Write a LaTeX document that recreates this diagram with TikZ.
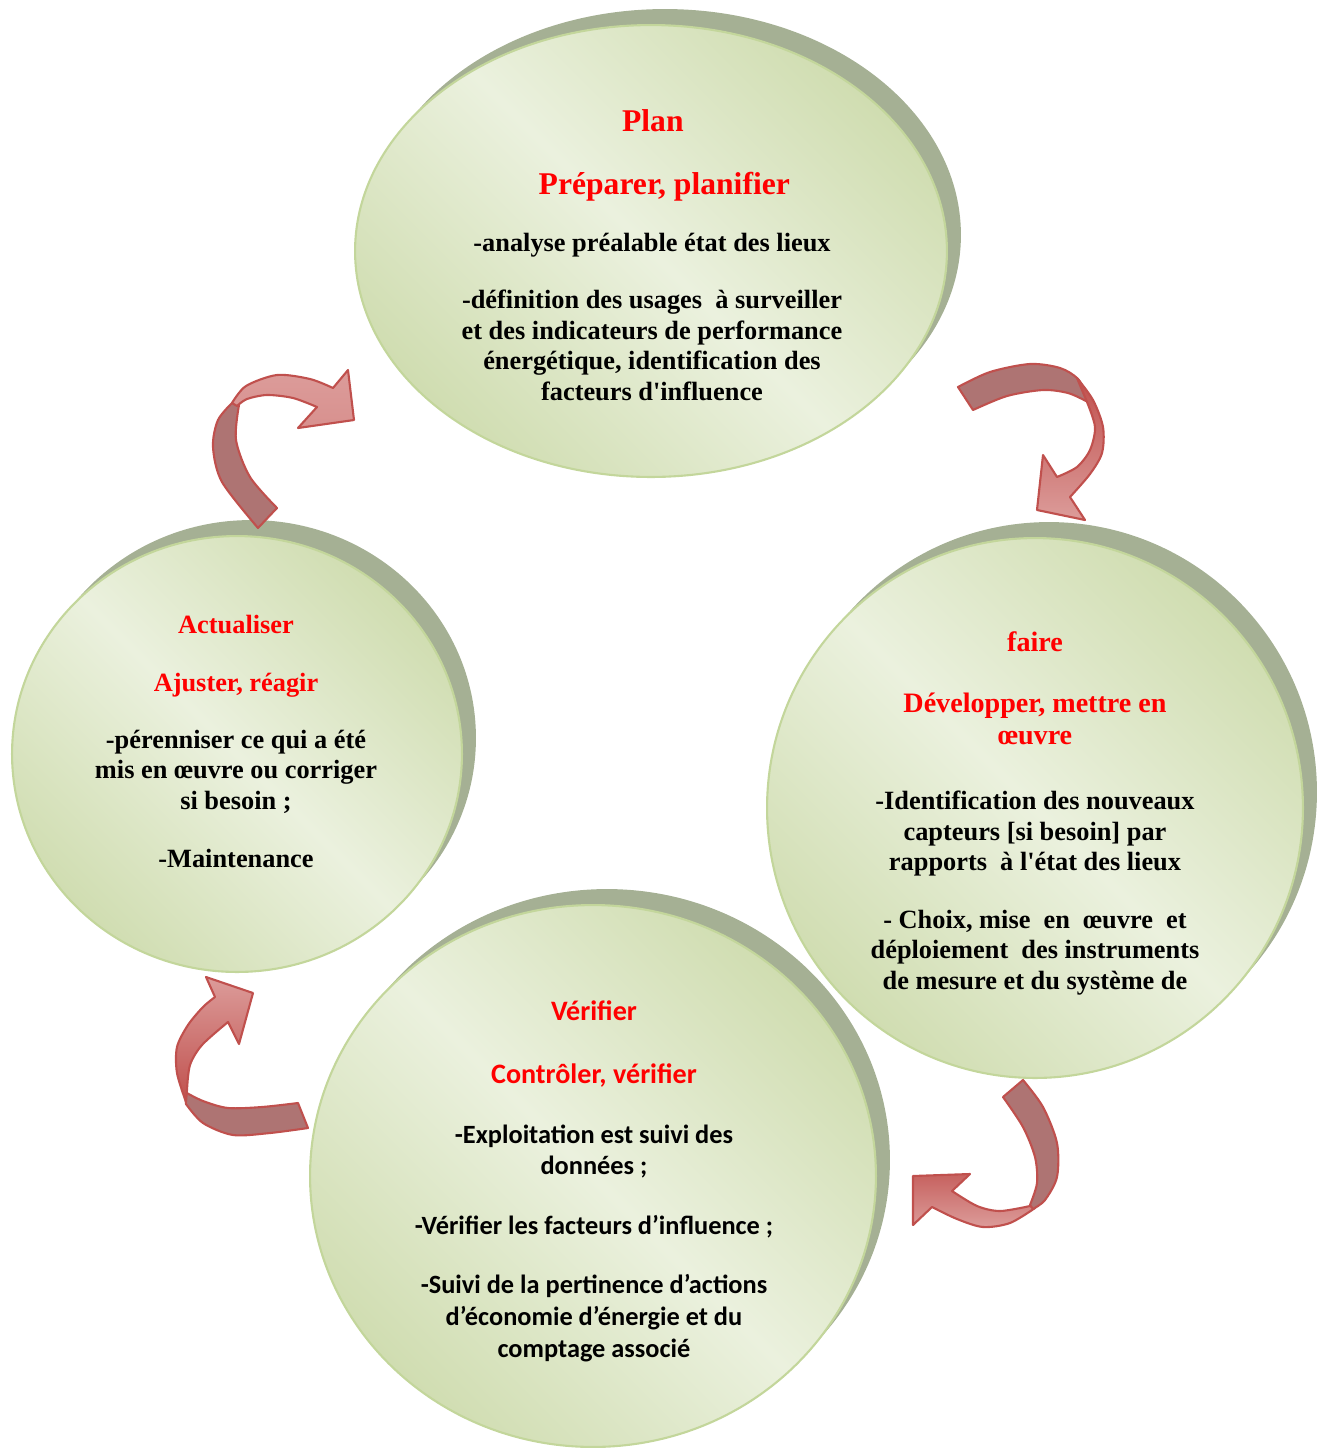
\documentclass[tikz,border=0pt]{standalone}
\usepackage{fontspec}
\setmainfont{Liberation Serif}
\newfontfamily\calibri{Carlito}
\usepackage{tikz}
\usetikzlibrary{shapes.geometric,shadows}

\definecolor{bubblelight}{HTML}{EBF1DE}
\definecolor{bubbledark}{HTML}{D0DDB1}
\definecolor{bubbleedge}{HTML}{C3D69B}
\definecolor{bubbleshadow}{HTML}{A5B094}
\definecolor{ribbonedge}{HTML}{C0504D}
\definecolor{ribbonback}{HTML}{AE7473}
\definecolor{ribbonpale}{HTML}{DC9C9A}
\definecolor{titlered}{HTML}{FF0000}

\newcommand{\hd}[2]{{\color{titlered}\fontsize{#1}{17.3}\selectfont #2}}
\newcommand{\sq}{\textquotesingle}

\tikzset{
    bubble/.style={ellipse, draw=bubbleedge, line width=1.2pt, inner sep=0pt,
        top color=bubbledark, bottom color=bubbledark, middle color=bubblelight,
        shading angle=-45,
        general shadow={shadow xshift=0.28cm, shadow yshift=0.32cm, fill=bubbleshadow}},
    tnr/.style={font=\bfseries\fontsize{15}{17.3}\selectfont, align=center, inner sep=0pt},
    calib/.style={font=\calibri\bfseries\fontsize{15}{18.1}\selectfont, align=center, inner sep=0pt},
    ribback/.style={fill=ribbonback, draw=ribbonedge, line width=1.2pt, line join=round},
    ribfront/.style={draw=ribbonedge, line width=1.2pt, line join=round}
}

\begin{document}
\begin{tikzpicture}[x=0.02cm, y=-0.02cm]
    \useasboundingbox (0,0) rectangle (1328,1448);

    % The four phases
    \node[bubble, minimum width=11.84cm, minimum height=9.04cm] (plan) at (651,251) {};
    \node[bubble, minimum width=9.0cm, minimum height=8.72cm] (actu) at (237,754) {};
    \node[bubble, minimum width=10.72cm, minimum height=10.8cm] (faire) at (1035,808) {};
    \node[bubble, minimum width=11.32cm, minimum height=10.84cm] (verif) at (593,1176) {};

    % Texts (base = baseline of the last line)
    \node[tnr, anchor=base] (plantext) at (652,400) {\hd{18}{\hspace{1pt}Plan}\\[18.4pt]
        \hd{18}{\hspace{14pt}Préparer, planifier}\\[15pt]
        -analyse préalable état des lieux\\[15.6pt]
        -définition des usages\ \ à surveiller\\
        et des indicateurs de performance\\
        énergétique, identification des\\
        facteurs d\sq influence};

    \node[tnr, anchor=base] (actutext) at (236,867) {\hd{15}{Actualiser}\\[16pt]
        \hd{15}{Ajuster, réagir}\\[15pt]
        -pérenniser ce qui a été\\
        mis en œuvre ou corriger\\
        si besoin ;\\[15.5pt]
        -Maintenance};

    \node[tnr, anchor=base] (fairetext) at (1035,989) {\hd{16}{faire}\\[17.3pt]
        \hd{16}{Développer, mettre en}\\[1.4pt]
        \hd{16}{œuvre}\\[19.5pt]
        -Identification des nouveaux\\
        capteurs [si besoin] par\\
        rapports\ \ à l\sq état des lieux\\[15.6pt]
        - Choix, mise\ \ en\ \ œuvre\ \ et\\
        déploiement\ \ des instruments\\
        de mesure et du système de};

    \node[calib, anchor=base] (veriftext) at (594,1357) {\hd{16}{Vérifier}\\[17.6pt]
        \hd{16}{Contrôler, vérifier}\\[15.9pt]
        -Exploitation est suivi des\\
        données ;\\[15.9pt]
        -Vérifier les facteurs d’influence ;\\[15.3pt]
        -Suivi de la pertinence d’actions\\
        d’économie d’énergie et du\\
        comptage associé};

    % Curved arrows, back side first
    % actualiser -> plan
    \draw[ribback] plot[smooth] coordinates {(258,528) (222,482) (213,447) (218,420) (233,402)}
        -- plot[smooth] coordinates {(239,405) (236,440) (250,477) (277,508)} -- cycle;
    \draw[ribfront, top color=ribbonpale, bottom color=ribbonpale!85!ribbonedge]
        plot[smooth] coordinates {(232,403) (246,386) (277,375) (310,379) (333,388)}
        -- (348,370) -- (354,420) -- (298,428)
        -- plot[smooth] coordinates {(317,407) (293,398) (267,395) (247,399) (237,406)} -- cycle;

    % plan -> faire
    \draw[ribback] plot[smooth] coordinates {(958,387) (990,372) (1030,364) (1060,368) (1078,379) (1088,398)}
        -- plot[smooth] coordinates {(1086,401) (1068,393) (1043,390) (1007,396) (973,410)} -- cycle;
    \draw[ribfront, top color=ribbonedge, bottom color=ribbonpale]
        plot[smooth] coordinates {(1077,378) (1093,400) (1103,427) (1102,453) (1090,474) (1070,497)}
        -- (1085,520) -- (1037,510) -- (1043,455)
        -- plot[smooth] coordinates {(1057,477) (1077,467) (1090,450) (1095,427) (1087,402)} -- cycle;

    % faire -> verifier
    \draw[ribfront, top color=ribbonedge!90, bottom color=ribbonpale]
        plot[smooth] coordinates {(1035,1208) (1010,1223) (983,1227) (957,1219) (932,1207)}
        -- (913,1225) -- (913,1176) -- (970,1174)
        -- plot[smooth] coordinates {(952,1191) (977,1206) (1000,1211) (1030,1206)} -- cycle;
    \draw[ribback] plot[smooth] coordinates {(1023,1080) (1043,1107) (1057,1143) (1057,1177) (1045,1200) (1033,1209)}
        -- plot[smooth] coordinates {(1030,1205) (1037,1183) (1035,1157) (1023,1127) (1003,1097)} -- cycle;

    % verifier -> actualiser
    \draw[ribback] plot[smooth] coordinates {(298,1103) (262,1107) (228,1108) (203,1101) (185,1092)}
        -- plot[smooth] coordinates {(186,1104) (203,1123) (233,1135) (270,1133) (308,1128)} -- cycle;
    \draw[ribfront, top color=ribbonpale, bottom color=ribbonedge]
        plot[smooth] coordinates {(186,1102) (177,1073) (177,1047) (188,1025) (203,1007) (215,997)}
        -- (206,977) -- (253,993) -- (239,1044)
        -- plot[smooth] coordinates {(228,1022) (202,1045) (190,1065) (187,1090)} -- cycle;
\end{tikzpicture}
\end{document}
